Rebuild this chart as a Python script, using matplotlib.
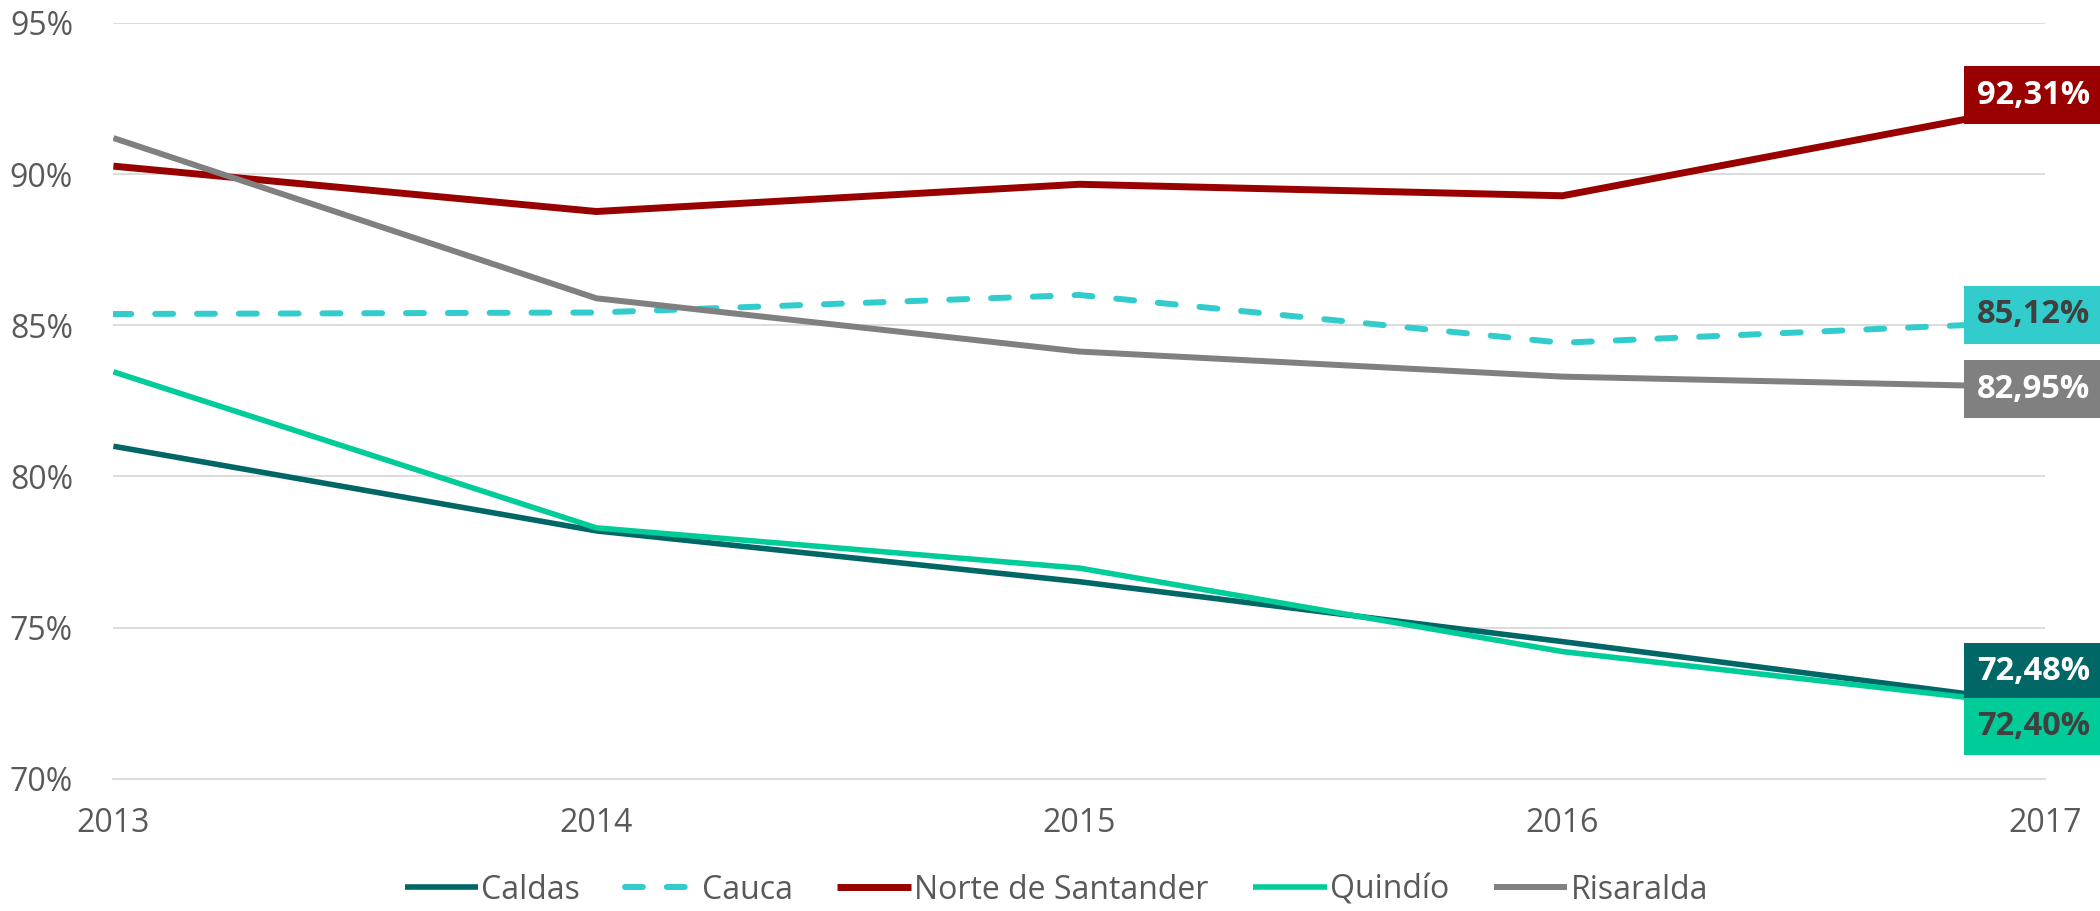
import numpy as np
import matplotlib
matplotlib.use("Agg")
import matplotlib.pyplot as plt

# data (percent)
years = [2013, 2014, 2015, 2016, 2017]
caldas = [81.00, 78.20, 76.52, 74.54, 72.48]
cauca = [85.37, 85.42, 86.00, 84.42, 85.12]
norte = [90.26, 88.76, 89.66, 89.28, 92.31]
quindio = [83.46, 78.30, 76.97, 74.21, 72.40]
risaralda = [91.19, 85.89, 84.13, 83.30, 82.95]

names = ["Caldas", "Cauca", "Norte de Santander", "Quindío", "Risaralda"]
colors = ["#006666", "#33CCCC", "#990000", "#00CC99", "#808080"]
widths = [4.0, 4.3, 5.0, 4.0, 4.3]
label_txt = ["white", "#404040", "white", "#404040", "white"]
# vertical nudge of the end labels, in points (as placed in the original)
label_dy = [23, 5, 6.5, -14.5, -1.4]

yticks = [70, 75, 80, 85, 90, 95]

plt.rcParams['font.family'] = ['Open Sans', 'DejaVu Sans']

fig = plt.figure(figsize=(21, 9.11), dpi=100)
ax = fig.add_axes([0.054, 0.145, 0.920, 0.830])

series = [caldas, cauca, norte, quindio, risaralda]
for i, vals in enumerate(series):
    if names[i] == "Cauca":
        ax.plot(years, vals, color=colors[i], lw=widths[i], dashes=(3, 4),
                dash_capstyle='round', label=names[i], zorder=3)
    else:
        ax.plot(years, vals, color=colors[i], lw=widths[i], label=names[i],
                solid_capstyle='butt', zorder=3)

# end-of-line value labels
for i, vals in enumerate(series):
    txt = f"{vals[-1]:.2f}%".replace(".", ",")
    ax.annotate(txt, xy=(years[-1], vals[-1]), xytext=(-8.6, label_dy[i]),
                textcoords="offset points", ha="center", va="center",
                fontsize=23.5, fontweight="bold", color=label_txt[i],
                bbox=dict(boxstyle="square,pad=0.38", fc=colors[i], ec="none"),
                annotation_clip=False, zorder=5)

ax.set_xlim(2013, 2017)
ax.set_ylim(70, 95)
ax.set_yticks(yticks)
ax.set_yticklabels([f"{t}%" for t in yticks])
ax.set_xticks(years)
ax.set_xticklabels([str(y) for y in years])
ax.grid(axis="y", color="#D9D9D9", lw=1.3, zorder=0)
for s in ["top", "right", "left"]:
    ax.spines[s].set_visible(False)
ax.spines["bottom"].set_color("#D9D9D9")
ax.spines["bottom"].set_linewidth(1.3)
ax.tick_params(axis="both", length=0, labelsize=23, labelcolor="#595959")
ax.tick_params(axis="y", pad=29)
ax.tick_params(axis="x", pad=20)

fig.legend(loc="center", bbox_to_anchor=(0.503, 0.023), ncol=5, frameon=False,
           fontsize=23, labelcolor="#595959", handlelength=2.3,
           handletextpad=0.1, columnspacing=1.4)

fig.savefig("out.png", dpi=100)
